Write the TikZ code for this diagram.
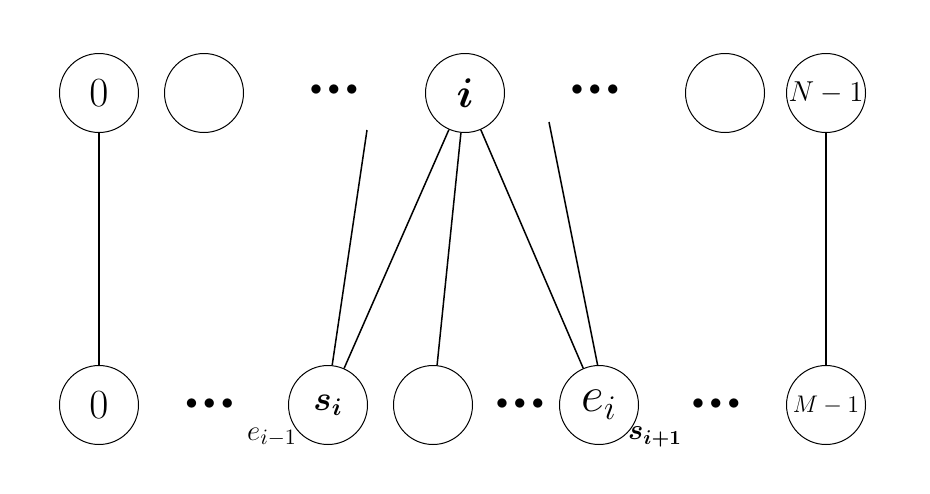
\documentclass[tikz,border=0pt]{standalone}
\usepackage{amsmath,bm}
\begin{document}
\begin{tikzpicture}[x=0.5pt,y=-0.5pt,
  vtx/.style={draw,circle,minimum size=39.5pt,inner sep=0pt,line width=0.5pt},
  fz/.style={font=\fontsize{#1}{#1}\selectfont},
  dotsnode/.style={inner sep=0pt,font=\fontsize{11.5pt}{11.5pt}\selectfont},
  conn/.style={line width=0.75pt}]
\newcommand{\mydots}{${\bullet}\hspace{3pt}{\bullet}\hspace{3pt}{\bullet}$}
\useasboundingbox (0,0) rectangle (930,493);
% top row
\node[vtx,fz=21pt] (t0) at (99,93) {$0$};
\node[vtx] (t1) at (204,93) {};
\node[dotsnode] (td1) at (334,90) {\mydots};
\node[vtx,fz=20.5pt] (ti) at (465,93) {$\bm{i}$};
\node[dotsnode] (td2) at (595,90) {\mydots};
\node[vtx] (t2) at (725,93) {};
\node[vtx,fz=13.6pt] (tn) at (826,93) {$N-1$};
% bottom row
\node[vtx,fz=21pt] (b0) at (99,405) {$0$};
\node[dotsnode] (bd1) at (209.5,404) {\mydots};
\node[vtx,fz=17pt] (bs) at (328,405) {$\bm{s_i}$};
\node[vtx] (bm) at (433,405) {};
\node[dotsnode] (bd2) at (520,404) {\mydots};
\node[vtx,fz=27pt] (be) at (599,405) {$e_i$};
\node[dotsnode] (bd3) at (716,404) {\mydots};
\node[vtx,fz=13.2pt] (bmm) at (826,405) {$M-1$};
% labels
\node[fz=15pt,inner sep=0pt] (lprev) at (272,437) {$e_{i-1}$};
\node[fz=14pt,inner sep=0pt] (lnext) at (655,437) {$\bm{s_{i+1}}$};
% free ends
\coordinate (f1) at (367,130);
\coordinate (f2) at (549,122);
% connectors
\draw[conn] (t0) -- (b0);
\draw[conn] (tn) -- (bmm);
\draw[conn] (f1) -- (bs.84);
\draw[conn] (ti) -- (bs);
\draw[conn] (ti) -- (bm);
\draw[conn] (ti) -- (be);
\draw[conn] (f2) -- (be.92);
\end{tikzpicture}
\end{document}
